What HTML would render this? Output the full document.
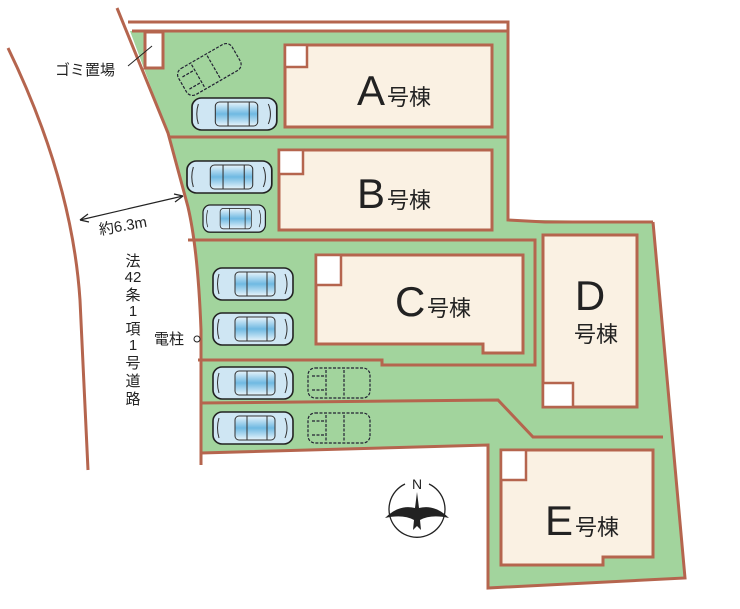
<!DOCTYPE html>
<html><head><meta charset="utf-8"><style>
html,body{margin:0;padding:0;background:#fff;}
svg{display:block;}
text{font-family:"Liberation Sans","Noto Sans CJK JP",sans-serif;fill:#222;}
</style></head><body>
<svg width="740" height="609" viewBox="0 0 740 609" xmlns="http://www.w3.org/2000/svg">
<defs>
<linearGradient id="bl" x1="0" y1="0" x2="0" y2="1">
<stop offset="0" stop-color="#e8f4fb"/><stop offset="0.5" stop-color="#6fb9e2"/><stop offset="1" stop-color="#e8f4fb"/>
</linearGradient>
<g id="car">
<rect x="0" y="0" width="80" height="32" rx="9" fill="#cfe6f3" stroke="#222" stroke-width="1.6"/>
<rect x="22" y="4" width="40" height="24" rx="4" fill="url(#bl)" stroke="#333" stroke-width="1"/>
<path d="M6 6 Q3 16 6 26 M72 6 Q76 16 72 26 M34 4 V28 M54 4 V28" stroke="#333" fill="none" stroke-width="1"/>
</g>
<g id="dcar" fill="none" stroke="#223" stroke-width="1.2" stroke-dasharray="3 1.5">
<rect x="0" y="0" width="62" height="30" rx="7"/>
<path d="M18 2 V28 M36 2 V28 M4 8 H16 M4 22 H16"/>
</g>
</defs>

<path d="M8 48 Q72 180 80 300 L88 470" fill="none" stroke="#b5654e" stroke-width="3"/>

<path d="M130 31 L508 31 L508 220 L545 220 L653 222 L685 578 L488 588 L488 445 L201 453 L201 330 Q198 240 188 207 L168 133 Z" fill="#a2d49d"/>
<path d="M128 22 H508 V31 H132" fill="#fff" stroke="#b5654e" stroke-width="3"/>
<path d="M117 8 L168 133 L188 207 Q198 250 201 330 L201 465" fill="none" stroke="#b5654e" stroke-width="3"/>
<g fill="none" stroke="#b5654e" stroke-width="3">
<path d="M508 31 V220 L545 222 L653 222"/>
<path d="M168 137 H508"/>
<path d="M188 240 H535 V365 L382 365 L382 360 L198 360"/>
<path d="M653 222 L685 578 L488 588 L488 445 L201 453"/>
<path d="M200 403 L498 400 L533 437 L663 437"/>
</g>
<rect x="145" y="32" width="18" height="36" fill="#fff" stroke="#b5654e" stroke-width="3"/>
<line x1="128" y1="66" x2="152" y2="46" stroke="#222" stroke-width="1"/>

<g fill="#faf1e3" stroke="#b5654e" stroke-width="3">
<rect x="285" y="45" width="207" height="82"/>
<rect x="279" y="150" width="213" height="80"/>
<path d="M316 255 H523 V353 H483 V344 H316 Z"/>
<rect x="543" y="235" width="94" height="172"/>
<path d="M501 450 H653 V557 H603 V565 H501 Z"/>
</g>
<g fill="#fff" stroke="#b5654e" stroke-width="2.5">
<rect x="285" y="45" width="22" height="22"/>
<rect x="279" y="150" width="24" height="24"/>
<rect x="316" y="255" width="25" height="30"/>
<rect x="543" y="383" width="30" height="24"/>
<rect x="501" y="450" width="25" height="30"/>
</g>

<text x="357" y="105" font-size="42">A</text><text x="387" y="105" font-size="22">号棟</text>
<text x="357" y="208" font-size="42">B</text><text x="387" y="208" font-size="22">号棟</text>
<text x="395" y="316" font-size="42">C</text><text x="427" y="316" font-size="22">号棟</text>
<text x="590" y="310" font-size="42" text-anchor="middle">D</text><text x="596" y="342" font-size="22" text-anchor="middle">号棟</text>
<text x="545" y="535" font-size="42">E</text><text x="575" y="535" font-size="22">号棟</text>

<g transform="translate(175,72) rotate(-30)"><use href="#dcar"/></g>
<use href="#car" transform="translate(192,98) scale(1.06,1)"/>
<use href="#car" transform="translate(187,161) scale(1.06,1)"/>
<use href="#car" transform="translate(203,205) scale(0.78,0.85)"/>
<use href="#car" transform="translate(213,268)"/>
<use href="#car" transform="translate(213,313)"/>
<use href="#car" transform="translate(213,367)"/>
<use href="#car" transform="translate(213,412)"/>
<use href="#dcar" transform="translate(308,368)"/>
<use href="#dcar" transform="translate(308,413)"/>

<text x="55" y="75" font-size="15">ゴミ置場</text>
<line x1="80" y1="220" x2="183" y2="196" stroke="#222" stroke-width="1.2"/>
<path d="M80 220 l8 -6 M80 220 l9 2 M183 196 l-9 -2 M183 196 l-8 6" stroke="#222" stroke-width="1.2" fill="none"/>
<text x="100" y="235" font-size="15" transform="rotate(-10 100 235)">約6.3m</text>
<g font-size="15" text-anchor="middle">
<text x="133" y="266">法</text><text x="133" y="282">42</text><text x="133" y="300">条</text><text x="133" y="316">1</text><text x="133" y="334">項</text><text x="133" y="350">1</text><text x="133" y="368">号</text><text x="133" y="386">道</text><text x="133" y="404">路</text>
</g>
<text x="154" y="344" font-size="15">電柱</text>
<circle cx="197" cy="339" r="3" fill="none" stroke="#222"/>

<g transform="translate(417,510)">
<path d="M-12 -26 A28 28 0 1 0 12 -26" fill="none" stroke="#222" stroke-width="1.3"/>
<text x="0" y="-21" font-size="14" text-anchor="middle">N</text>
<path d="M0 -18 L2 -2 Q18 -6 32 8 Q14 4 3 10 L4 20 L0 16 L-4 20 L-3 10 Q-14 4 -32 8 Q-18 -6 -2 -2 Z" fill="#222"/>
</g>
</svg>
</body></html>
